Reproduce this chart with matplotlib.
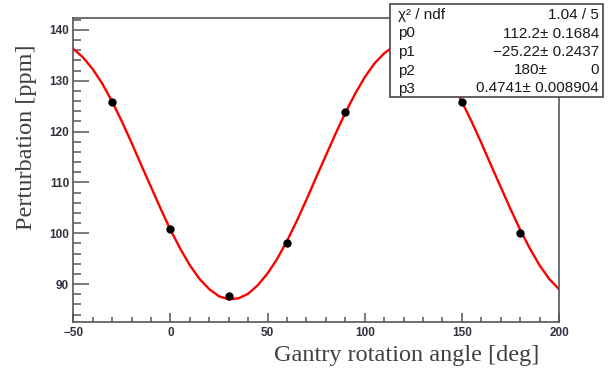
import numpy as np
import matplotlib
matplotlib.use("Agg")
import matplotlib.pyplot as plt
from matplotlib.patches import Rectangle
from matplotlib.ticker import MultipleLocator

# measured points (gantry angle in deg, perturbation in ppm)
angles = [-30, 0, 30, 60, 90, 120, 150, 180]
perturbation = [125.8, 100.9, 87.6, 98.0, 123.9, 137.3, 125.8, 100.1]

# fitted curve, every 5 deg from -50 to 200
fit_x = np.arange(-50, 205, 5)
fit_y = [136.3, 134.6, 132.3, 129.4, 125.9, 122.0, 117.8, 113.4, 109.1, 104.8,
         100.7, 97.0, 93.7, 91.0, 89.0, 87.6, 87.0, 87.2, 88.1, 89.8,
         92.1, 95.0, 98.5, 102.4, 106.6, 111.0, 115.3, 119.6, 123.7, 127.4,
         130.7, 133.4, 135.4, 136.8, 137.4, 137.2, 136.3, 134.6, 132.3, 129.4,
         125.9, 122.0, 117.8, 113.4, 109.1, 104.8, 100.7, 97.0, 93.7, 91.0,
         89.0]

# stats box contents
stat_names = ["\u03c7\u00b2 / ndf", "p0", "p1", "p2", "p3"]
stat_values = ["1.04 / 5", "112.2\u00b1 0.1684", "\u221225.22\u00b1 0.2437", None, "0.4741\u00b1 0.008904"]
p2_value, p2_error = "180\u00b1", "0"

W, H = 610, 373
fig = plt.figure(figsize=(W / 100, H / 100), dpi=100)
ax = fig.add_axes([73.3 / W, 1 - 321.7 / H, (559 - 73.3) / W, (321.7 - 18.3) / H])

frame_col = "#555555"
text_col = "#333340"

ax.plot(fit_x, fit_y, color="#ff0000", lw=1.7, zorder=2)
ax.plot(angles, perturbation, "o", color="black", ms=5, zorder=3)

ax.set_xlim(-50, 200)
ax.set_ylim(82.6, 142.3)
ax.xaxis.set_major_locator(MultipleLocator(50))
ax.xaxis.set_minor_locator(MultipleLocator(10))
ax.yaxis.set_major_locator(MultipleLocator(10))
ax.yaxis.set_minor_locator(MultipleLocator(2))

for s in ax.spines.values():
    s.set_color(frame_col)
    s.set_linewidth(1.2)

ax.tick_params(axis="both", which="both", direction="in", color=frame_col,
               width=1.1, labelcolor=text_col)
ax.tick_params(axis="y", which="major", length=11.5, pad=3)
ax.tick_params(axis="y", which="minor", length=6)
ax.tick_params(axis="x", which="major", length=6.5, pad=4)
ax.tick_params(axis="x", which="minor", length=3.5)

for lab in ax.get_xticklabels() + ax.get_yticklabels():
    lab.set_fontfamily("Liberation Sans")
    lab.set_fontweight("bold")
    lab.set_fontsize(8.5)

# axis titles (ROOT style, placed on the figure)
fig.text(539 / W, 1 - 356 / H, "Gantry rotation angle [deg]", ha="right", va="center",
         fontfamily="Liberation Serif", fontsize=17.5, color="#404040")
fig.text(27 / W, 1 - 137.5 / H, "Perturbation [ppm]", ha="center", va="center",
         rotation=90, fontfamily="Liberation Serif", fontsize=17.5, color="#404040")

# stats box
box = Rectangle((390 / W, 1 - 96.7 / H), (603 - 390) / W, (96.7 - 4) / H,
                transform=fig.transFigure, facecolor="white", edgecolor=frame_col,
                lw=1.3, zorder=10)
fig.add_artist(box)

stat_font = dict(fontfamily="Liberation Sans", fontsize=11, color="#1a1a1a", zorder=11)
row_y = [15, 33.5, 52, 70.5, 88.5]
for name, val, yy in zip(stat_names, stat_values, row_y):
    fig.text(398 / W, 1 - yy / H, name, ha="left", va="center", **stat_font)
    if val is not None:
        fig.text(599 / W, 1 - yy / H, val, ha="right", va="center", **stat_font)

# line the p2 "±" up with the one of p0
renderer = fig.canvas.get_renderer()
probe = fig.text(0, 0, " 0.1684", **stat_font)
err_w = probe.get_window_extent(renderer).width
probe.remove()
fig.text((599 - err_w) / W, 1 - row_y[3] / H, p2_value, ha="right", va="center", **stat_font)
fig.text(599 / W, 1 - row_y[3] / H, p2_error, ha="right", va="center", **stat_font)

fig.savefig("out.png", dpi=100, facecolor="white")
